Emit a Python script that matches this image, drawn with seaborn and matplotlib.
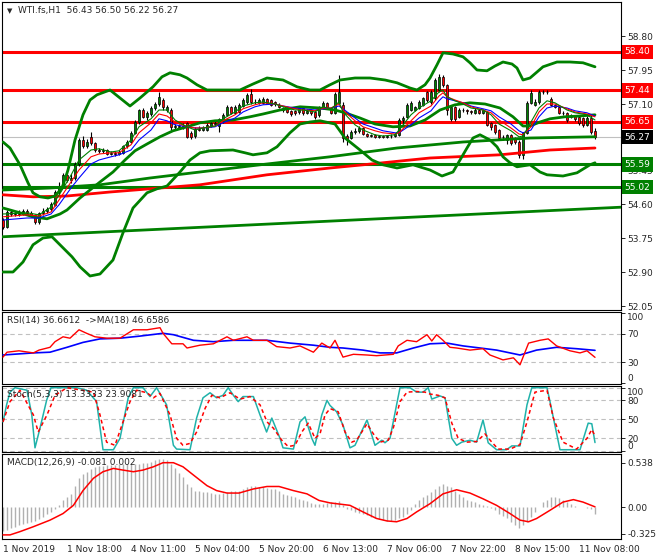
import numpy as np
import pandas as pd
import matplotlib
matplotlib.use("Agg")
import matplotlib.pyplot as plt
import matplotlib.transforms as mtransforms
import seaborn as sns

# ---------------- H1 bars, WTI.fs ----------------
opens = [54.20, 54.03, 54.40, 54.35, 54.38, 54.35, 54.42, 54.38, 54.33, 54.15,
         54.38, 54.42, 54.47, 54.58, 54.90, 55.05, 55.32, 55.20, 55.25, 55.60,
         56.20, 56.05, 56.28, 56.12, 55.95, 55.92, 55.95, 55.85, 55.88, 55.85,
         55.88, 56.05, 56.15, 56.38, 56.65, 56.95, 56.78, 56.85, 57.00, 57.10,
         57.20, 56.95, 56.95, 56.52, 56.55, 56.53, 56.62, 56.38, 56.30, 56.48,
         56.45, 56.45, 56.55, 56.63, 56.55, 56.68, 56.83, 57.03, 56.88, 56.90,
         57.05, 57.15, 57.35, 57.15, 57.13, 57.13, 57.22, 57.20, 57.15, 57.08,
         57.00, 57.00, 56.92, 56.92, 56.90, 57.00, 56.88, 56.95, 56.90, 56.82,
         57.02, 57.12, 57.00, 56.88, 57.12, 57.08, 56.30, 56.25, 56.40, 56.42,
         56.50, 56.35, 56.30, 56.33, 56.28, 56.30, 56.28, 56.30, 56.30, 56.33,
         56.70, 56.78, 56.95, 56.95, 57.00, 57.08, 57.40, 57.15, 57.25, 57.45,
         57.78, 57.58, 56.72, 57.03, 56.78, 56.95, 56.95, 56.92, 56.88, 56.95,
         56.87, 56.90, 56.62, 56.57, 56.45, 56.28, 56.20, 56.32, 56.25, 56.15,
         55.83, 56.38, 57.13, 57.08, 57.15, 57.40, 57.40, 57.23, 57.08, 57.03,
         56.88, 56.88, 56.78, 56.80, 56.78, 56.75, 56.58, 56.75, 56.43]
highs = [54.25, 54.45, 54.45, 54.43, 54.45, 54.47, 54.48, 54.42, 54.36, 54.40,
         54.50, 54.52, 54.65, 54.95, 55.15, 55.38, 55.40, 55.35, 55.65, 56.25,
         56.30, 56.22, 56.40, 56.15, 56.00, 56.00, 55.98, 55.93, 55.92, 55.95,
         56.08, 56.20, 56.42, 56.70, 56.98, 57.00, 56.92, 57.05, 57.15, 57.40,
         57.25, 57.08, 57.00, 56.60, 56.60, 56.62, 56.65, 56.42, 56.52, 56.55,
         56.55, 56.62, 56.68, 56.68, 56.75, 56.88, 57.08, 57.05, 57.08, 57.12,
         57.25, 57.38, 57.48, 57.22, 57.25, 57.27, 57.25, 57.23, 57.18, 57.12,
         57.03, 57.02, 56.95, 56.95, 57.05, 57.02, 56.98, 56.98, 56.92, 57.05,
         57.18, 57.15, 57.02, 57.40, 57.82, 57.15, 56.35, 56.45, 56.50, 56.55,
         56.52, 56.38, 56.36, 56.36, 56.33, 56.32, 56.33, 56.34, 56.38, 56.75,
         56.80, 57.12, 57.18, 57.05, 57.20, 57.28, 57.42, 57.45, 57.75, 57.85,
         57.82, 57.60, 57.05, 57.05, 57.00, 57.00, 56.98, 56.95, 57.00, 56.98,
         56.98, 56.93, 56.65, 56.60, 56.48, 56.32, 56.35, 56.35, 56.28, 56.20,
         56.40, 57.18, 57.45, 57.22, 57.45, 57.45, 57.45, 57.28, 57.10, 57.05,
         56.92, 56.90, 56.85, 56.82, 56.80, 56.78, 56.80, 56.85, 56.50]
lows = [53.98, 54.00, 54.30, 54.30, 54.30, 54.33, 54.35, 54.28, 54.10, 54.10,
        54.33, 54.38, 54.42, 54.55, 54.85, 55.00, 55.15, 55.12, 55.20, 55.55,
        56.00, 56.00, 56.08, 55.90, 55.88, 55.88, 55.82, 55.82, 55.80, 55.82,
        55.85, 56.00, 56.12, 56.35, 56.60, 56.75, 56.70, 56.80, 56.95, 57.05,
        56.95, 56.90, 56.45, 56.45, 56.48, 56.48, 56.25, 56.22, 56.25, 56.42,
        56.42, 56.42, 56.52, 56.55, 56.40, 56.62, 56.80, 56.85, 56.85, 56.88,
        57.02, 57.10, 57.10, 57.10, 57.10, 57.10, 57.10, 57.05, 57.05, 57.00,
        56.90, 56.88, 56.80, 56.83, 56.85, 56.83, 56.85, 56.83, 56.72, 56.78,
        56.98, 56.98, 56.85, 56.85, 57.10, 56.15, 56.08, 56.22, 56.35, 56.38,
        56.32, 56.28, 56.27, 56.25, 56.25, 56.24, 56.26, 56.26, 56.27, 56.30,
        56.55, 56.75, 56.92, 56.93, 56.98, 57.05, 57.15, 57.10, 57.20, 57.40,
        57.52, 56.83, 56.68, 56.68, 56.75, 56.90, 56.85, 56.85, 56.85, 56.84,
        56.84, 56.55, 56.45, 56.35, 56.20, 56.20, 56.10, 56.08, 56.10, 55.75,
        55.72, 56.35, 57.10, 57.05, 57.10, 57.35, 57.35, 57.05, 57.00, 56.85,
        56.83, 56.65, 56.75, 56.68, 56.58, 56.52, 56.55, 56.35, 56.22]
closes = [54.03, 54.40, 54.35, 54.38, 54.35, 54.42, 54.38, 54.33, 54.15, 54.38,
          54.42, 54.47, 54.60, 54.90, 55.05, 55.32, 55.20, 55.25, 55.60, 56.20,
          56.05, 56.15, 56.12, 55.95, 55.92, 55.95, 55.85, 55.88, 55.85, 55.90,
          56.05, 56.15, 56.38, 56.65, 56.95, 56.78, 56.88, 57.00, 57.10, 57.28,
          57.03, 57.02, 56.52, 56.55, 56.53, 56.55, 56.28, 56.28, 56.48, 56.45,
          56.50, 56.58, 56.63, 56.60, 56.72, 56.83, 57.03, 56.88, 57.03, 57.08,
          57.20, 57.32, 57.15, 57.15, 57.20, 57.23, 57.13, 57.08, 57.10, 57.03,
          56.95, 56.90, 56.85, 56.88, 57.00, 56.88, 56.92, 56.88, 56.78, 57.02,
          57.13, 57.00, 56.88, 57.35, 57.40, 56.25, 56.22, 56.40, 56.43, 56.50,
          56.35, 56.30, 56.33, 56.28, 56.30, 56.28, 56.30, 56.30, 56.35, 56.70,
          56.75, 57.08, 57.13, 57.03, 57.15, 57.25, 57.20, 57.40, 57.70, 57.78,
          57.58, 56.95, 57.03, 56.72, 56.95, 56.95, 56.92, 56.90, 56.95, 56.87,
          56.95, 56.58, 56.52, 56.40, 56.25, 56.28, 56.32, 56.13, 56.15, 55.83,
          56.38, 57.13, 57.38, 57.15, 57.40, 57.40, 57.40, 57.08, 57.03, 56.88,
          56.88, 56.70, 56.83, 56.73, 56.63, 56.58, 56.75, 56.40, 56.27]

# thin moving averages (read every few bars)
ma_idx = [0, 6, 9, 12, 14, 17, 19, 22, 24, 27, 29, 32, 34, 37, 39, 41, 43, 46, 48, 50,
          53, 55, 58, 60, 63, 65, 68, 70, 73, 75, 78, 80, 82, 84, 85, 88, 90, 93, 95, 98,
          99, 102, 104, 107, 109, 110, 111, 113, 115, 117, 120, 122, 124, 127, 129, 130,
          132, 134, 136, 138, 141, 143, 146, 148]
ma_fast = [54.35, 54.38, 54.33, 54.52, 54.82, 55.32, 55.70, 55.95, 55.98, 55.90,
           55.93, 56.20, 56.53, 56.73, 56.95, 56.95, 56.70, 56.53, 56.45, 56.50,
           56.55, 56.73, 56.90, 57.05, 57.13, 57.15, 57.10, 57.03, 56.95, 56.95,
           56.90, 57.03, 56.98, 57.15, 56.90, 56.58, 56.45, 56.33, 56.30, 56.33,
           56.45, 56.83, 57.00, 57.18, 57.40, 57.45, 57.28, 57.18, 57.10, 57.00,
           56.95, 56.83, 56.60, 56.43, 56.28, 56.30, 56.65, 57.00, 57.18, 57.13,
           56.95, 56.88, 56.83, 56.70]
ma_mid = [54.28, 54.33, 54.30, 54.40, 54.70, 55.15, 55.45, 55.78, 55.85, 55.88,
          55.88, 56.08, 56.38, 56.63, 56.85, 56.80, 56.65, 56.53, 56.50, 56.50,
          56.55, 56.68, 56.83, 56.98, 57.08, 57.13, 57.10, 57.05, 56.98, 56.95,
          56.93, 57.00, 57.00, 57.10, 56.95, 56.68, 56.53, 56.43, 56.38, 56.35,
          56.38, 56.68, 56.88, 57.05, 57.30, 57.38, 57.28, 57.20, 57.13, 57.03,
          56.95, 56.88, 56.70, 56.50, 56.35, 56.33, 56.53, 56.90, 57.10, 57.10,
          56.98, 56.90, 56.85, 56.78]
ma_slow = [54.20, 54.25, 54.25, 54.35, 54.58, 55.00, 55.25, 55.60, 55.70, 55.78,
           55.83, 55.95, 56.20, 56.45, 56.73, 56.68, 56.58, 56.53, 56.50, 56.50,
           56.53, 56.63, 56.75, 56.90, 57.03, 57.08, 57.10, 57.05, 57.00, 56.98,
           56.95, 56.98, 57.00, 57.05, 56.98, 56.75, 56.60, 56.50, 56.43, 56.38,
           56.38, 56.58, 56.75, 56.93, 57.18, 57.28, 57.23, 57.18, 57.13, 57.05,
           56.98, 56.93, 56.78, 56.60, 56.43, 56.38, 56.45, 56.78, 57.00, 57.05,
           57.00, 56.93, 56.88, 56.80]

# bollinger bands
bb_up_idx = [0, 1.75, 4.25, 6.25, 7.5, 9.25, 11.25, 13, 14.75, 16.25, 18, 20, 21.75, 23.5,
             26.75, 29.25, 31.75, 34.25, 37.5, 39.75, 41.75, 44.25, 46, 48.5, 51, 54.25,
             59.25, 62.5, 66, 70, 73.5, 76.75, 79.25, 81.75, 84.25, 88, 91.75, 95.5, 98.5,
             101.75, 103.5, 105.5, 106.75, 108.5, 110, 112.5, 115, 116.75, 118.5, 121, 123,
             125, 127.25, 128.5, 130, 131.75, 133.5, 135, 138.5, 141.75, 145, 148]
bb_up = [56.15, 56.00, 55.58, 55.13, 54.88, 54.78, 54.75, 54.80, 55.00, 55.45,
         56.20, 56.83, 57.20, 57.33, 57.45, 57.25, 57.05, 57.25, 57.53, 57.78,
         57.88, 57.83, 57.75, 57.58, 57.45, 57.45, 57.45, 57.60, 57.75, 57.70,
         57.53, 57.45, 57.45, 57.58, 57.70, 57.75, 57.75, 57.70, 57.63, 57.50,
         57.45, 57.58, 57.75, 58.08, 58.38, 58.35, 58.28, 58.13, 57.95, 57.93,
         58.05, 58.15, 58.10, 58.00, 57.70, 57.75, 57.90, 58.03, 58.15, 58.15,
         58.13, 58.03]
bb_mid_idx = [0, 4.25, 7.5, 11, 14.25, 16, 19.25, 21.75, 24.25, 27.5, 30.5, 33, 36, 39.25,
              42.5, 46, 49.25, 53, 57.5, 61.75, 65, 69.25, 74.25, 79.25, 83, 85.5, 89.25,
              93, 97.5, 101.75, 105.5, 109.25, 113, 116.75, 120.5, 124.25, 127.5, 130,
              131.75, 134.25, 136.75, 140.5, 144.25, 148]
bb_mid = [54.50, 54.38, 54.28, 54.23, 54.35, 54.45, 54.75, 54.95, 55.15, 55.40,
          55.70, 55.93, 56.10, 56.28, 56.43, 56.53, 56.63, 56.68, 56.70, 56.78,
          56.85, 56.95, 57.03, 57.00, 56.95, 56.88, 56.75, 56.60, 56.53, 56.55,
          56.70, 56.95, 57.08, 57.13, 57.10, 57.00, 56.78, 56.55, 56.55, 56.65,
          56.73, 56.78, 56.80, 56.83]
bb_low_idx = [0, 2.5, 5, 7.5, 10, 12.25, 14.25, 17.25, 19.25, 21.75, 24.25, 27.5, 30, 32.5,
              36, 38.5, 41, 44.25, 46.75, 49.25, 51.75, 57.5, 60.5, 62.5, 66, 68.5, 71.75,
              74.25, 76.75, 79.25, 83, 85.5, 89.25, 92.25, 95, 98.5, 102.5, 106.75, 109.75,
              112.5, 114.25, 116, 117.5, 119.25, 121.75, 123.5, 125, 126.75, 128.5, 131.75,
              134.25, 136, 140, 143.5, 146.75, 148]
bb_low = [52.90, 52.90, 53.15, 53.58, 53.75, 53.78, 53.58, 53.28, 53.03, 52.80,
          52.85, 53.20, 53.88, 54.50, 54.88, 54.98, 55.05, 55.40, 55.70, 55.88,
          55.93, 55.95, 55.88, 55.83, 55.88, 56.03, 56.38, 56.60, 56.65, 56.68,
          56.60, 56.25, 55.95, 55.70, 55.58, 55.50, 55.58, 55.45, 55.30, 55.40,
          55.70, 56.00, 56.25, 56.33, 56.20, 56.03, 55.78, 55.63, 55.53, 55.58,
          55.40, 55.33, 55.30, 55.38, 55.58, 55.63]

# long moving averages and trend line
ma_g_idx = [0, 11.75, 24.25, 36.75, 49.25, 64.25, 81.75, 98.5, 115, 131.75, 148]
ma_g = [54.95, 55.00, 55.08, 55.25, 55.40, 55.58, 55.78, 56.00, 56.15, 56.25, 56.28]
ma_r_idx = [0, 7.5, 16, 26.75, 36.75, 49.25, 66, 81.75, 90, 106.75, 124.25, 136.75, 148]
ma_r = [54.83, 54.78, 54.80, 54.90, 54.98, 55.08, 55.33, 55.50, 55.58, 55.75, 55.83, 55.95, 56.00]
trend_idx = [-0.25, 154.5]
trend_val = [53.78, 54.52]

levels_red = [58.40, 57.44, 56.65]
levels_green = [55.59, 55.02]
last_price = 56.27
price_ticks = [52.05, 52.90, 53.75, 54.60, 55.45, 56.30, 57.10, 57.95, 58.80]

# RSI(14) and its MA(18)
rsi_idx = [0, 1, 4, 7.6, 9, 11.75, 13, 15, 16.75, 19, 20.9, 23, 26, 29.25, 32.6, 36, 39.25,
           40, 42.2, 45, 46, 49.25, 52.6, 56, 57.6, 61, 62.6, 66, 68.4, 71.75, 74.25, 77.6,
           79.7, 81.75, 83, 85, 87.6, 91, 93.4, 97.6, 98.8, 101, 103.4, 106, 107.2, 108.4,
           110, 111.75, 113.4, 116.75, 120, 121.75, 125, 127.6, 129.25, 131.4, 134.25,
           136.3, 138.4, 141.75, 144.25, 146, 148]
rsi_val = [37, 44, 46, 43, 47, 51, 59, 66, 64, 76, 71, 66, 64, 64, 76, 76, 79, 71, 56, 56,
           50, 54, 56, 66, 61, 66, 61, 61, 52, 50, 53, 44, 57, 50, 61, 37, 41, 40, 39, 41,
           53, 61, 59, 69, 60, 69, 61, 51, 50, 47, 49, 40, 33, 36, 26, 57, 61, 63, 53, 46,
           43, 46, 36.66]
rsi_ma_idx = [0, 7.6, 11.75, 16, 20, 24.25, 29.25, 34.25, 40, 42.6, 47.6, 52.6, 57.6, 66,
              71.75, 77.6, 81.75, 85, 90, 94.25, 98.4, 102.6, 106.75, 111, 115, 119.25,
              123.4, 129.25, 133.4, 138.4, 143.4, 148]
rsi_ma_val = [40, 43, 44, 51, 58, 63, 64, 67, 71, 69, 61, 59, 61, 61, 57, 54, 51, 50, 47,
              43, 43, 50, 56, 57, 53, 50, 47, 40, 47, 51, 49, 46.66]

# Stochastic(5,3,3)
sto_idx = [0, 0.9, 1.75, 3, 6, 7.2, 8, 9.25, 10.9, 12, 14.25, 18.4, 20.9, 23.4, 25, 27.6,
           29.25, 31.3, 32.6, 35, 36.75, 38.4, 40.9, 42.6, 43.4, 46.75, 48.4, 50, 51.75,
           53.4, 55, 56.3, 57.6, 58.8, 60, 62.6, 64.25, 65.9, 67.2, 69.25, 70, 72.6, 74.25,
           75.5, 77.2, 78, 79.7, 81, 81.75, 83.4, 85, 86.75, 88, 91, 93, 94.7, 95.5, 96.75,
           98.4, 99.25, 101.75, 103.4, 105, 106.3, 107.2, 109.25, 110.5, 112.2, 113.4,
           114.7, 116.75, 118.4, 120, 121.3, 123.4, 125.9, 127.2, 129.25, 131, 132.2, 136,
           136.75, 139.25, 144.25, 146.3, 147.2, 148]
sto_main = [46, 73, 93, 100, 96, 57, 5, 36, 80, 100, 100, 100, 96, 78, 2, 2, 20, 84, 100,
            100, 86, 100, 73, 9, 3, 2, 52, 84, 92, 84, 88, 100, 88, 78, 86, 86, 57, 30, 52,
            20, 5, 3, 46, 54, 20, 9, 57, 80, 72, 62, 41, 5, 9, 49, 9, 17, 13, 20, 73, 100,
            100, 93, 93, 100, 82, 87, 84, 20, 9, 14, 17, 14, 49, 13, 2, 2, 8, 8, 73, 100,
            100, 78, 2, 2, 44, 43, 13.33]
sto_sig_idx = [0, 1.75, 4.25, 7.6, 8.8, 11, 13, 16, 22.6, 24.25, 25.9, 28, 30, 31.75, 33.4,
               36, 37.6, 39.25, 41.75, 43.4, 45, 46.75, 48.4, 50.5, 52.2, 54.25, 56.75,
               59.25, 61.75, 64.25, 66, 67.6, 69.7, 71.3, 73, 74.7, 76.3, 78, 79.25, 80.5,
               81.75, 83.8, 85.5, 87.2, 88.4, 91, 92.6, 94.25, 96.3, 97.6, 99.25, 101, 103.4,
               105.5, 106.75, 108.8, 110.5, 112.2, 113.8, 116, 118.4, 120.5, 122.2, 123.8,
               126.75, 129.25, 131, 133, 136, 137.6, 140, 143.4, 146, 147.2, 148]
sto_sig = [46, 78, 96, 57, 30, 57, 88, 100, 93, 57, 14, 9, 46, 78, 96, 92, 84, 91, 57, 20,
           9, 12, 30, 67, 88, 84, 92, 82, 86, 73, 46, 36, 17, 7, 9, 30, 44, 20, 27, 57, 67,
           62, 30, 14, 17, 43, 27, 14, 17, 37, 78, 93, 94, 93, 90, 88, 84, 44, 20, 14, 15,
           27, 14, 3, 3, 10, 46, 93, 96, 52, 14, 3, 20, 34, 23.91]

# MACD(12,26,9): main as histogram, one value per bar, plus signal
macd_hist = [-0.29, -0.28, -0.26, -0.24, -0.22, -0.21, -0.20, -0.18, -0.17, -0.15,
             -0.12, -0.09, -0.06, -0.02, 0.02, 0.08, 0.12, 0.16, 0.25, 0.35,
             0.40, 0.43, 0.46, 0.49, 0.50, 0.50, 0.51, 0.51, 0.51, 0.52,
             0.52, 0.53, 0.53, 0.53, 0.53, 0.54, 0.54, 0.55, 0.57, 0.58,
             0.58, 0.57, 0.52, 0.47, 0.42, 0.37, 0.28, 0.24, 0.20, 0.19,
             0.18, 0.18, 0.17, 0.16, 0.16, 0.17, 0.18, 0.19, 0.20, 0.20,
             0.22, 0.24, 0.25, 0.25, 0.24, 0.24, 0.23, 0.22, 0.22, 0.19,
             0.16, 0.15, 0.13, 0.12, 0.10, 0.08, 0.07, 0.05, 0.04, 0.04,
             0.04, 0.05, 0.06, 0.06, 0.07, 0.02, -0.02, -0.04, -0.06, -0.07,
             -0.09, -0.10, -0.12, -0.14, -0.15, -0.16, -0.17, -0.17, -0.16, -0.14,
             -0.12, -0.08, -0.04, 0.04, 0.08, 0.12, 0.15, 0.18, 0.22, 0.26,
             0.28, 0.26, 0.24, 0.20, 0.16, 0.12, 0.09, 0.07, 0.06, 0.04,
             0.02, 0.01, -0.01, -0.04, -0.08, -0.11, -0.14, -0.18, -0.22, -0.26,
             -0.22, -0.18, -0.12, -0.06, 0.00, 0.06, 0.09, 0.12, 0.12, 0.11,
             0.08, 0.06, 0.04, 0.01, 0.00, 0.00, -0.01, -0.02, -0.081]
macd_sig_idx = [0, 1.75, 4.25, 7.6, 11.75, 15, 17.6, 20, 22.6, 25, 27.6, 30, 32.6, 35, 37.6,
                40, 42.6, 45, 47.6, 51, 53.4, 56, 59, 62.6, 66, 69, 72.6, 76, 79, 81.75,
                86.75, 90, 93.4, 96, 98.4, 101, 103.4, 106.75, 110, 113.4, 116.75, 120,
                123.4, 126.75, 129.25, 131.4, 133.4, 136.75, 140, 142.6, 145, 148]
macd_sig = [-0.34, -0.34, -0.30, -0.24, -0.16, -0.08, 0.02, 0.20, 0.35, 0.43,
            0.47, 0.45, 0.43, 0.45, 0.49, 0.54, 0.54, 0.49, 0.39, 0.26,
            0.20, 0.17, 0.17, 0.22, 0.25, 0.25, 0.20, 0.16, 0.08, 0.05,
            0.02, -0.06, -0.14, -0.17, -0.18, -0.14, -0.06, 0.04, 0.16, 0.21,
            0.17, 0.10, 0.02, -0.08, -0.16, -0.18, -0.14, -0.04, 0.06, 0.09,
            0.06, 0.002]

time_labels = ["1 Nov 2019", "1 Nov 18:00", "4 Nov 11:00", "5 Nov 04:00", "5 Nov 20:00",
               "6 Nov 13:00", "7 Nov 06:00", "7 Nov 22:00", "8 Nov 15:00", "11 Nov 08:00"]

# ---------------- style ----------------
sns.set_style("white")
plt.rcParams['font.family'] = ['DejaVu Sans']
FS = 6.5
GREEN = "#008000"
RED = "#ff0000"

W, H = 660, 560
fig = plt.figure(figsize=(W / 100, H / 100), dpi=100)


def panel(top, bottom):
    ax = fig.add_axes([2 / W, 1 - bottom / H, 619 / W, (bottom - top) / H])
    for s in ax.spines.values():
        s.set_color("black")
        s.set_linewidth(0.8)
    ax.set_xlim(-0.25, 154.5)
    ax.yaxis.tick_right()
    ax.tick_params(axis="y", direction="out", length=3, width=0.7, labelsize=FS, pad=1.5)
    ax.set_xticks([])
    return ax


def line(ax, x, y, color, lw, z=5, **kw):
    sns.lineplot(x=x, y=y, ax=ax, color=color, linewidth=lw, legend=False, zorder=z, **kw)


ax = panel(2, 310)
ax_rsi = panel(312, 384)
ax_sto = panel(386, 452)
ax_macd = panel(454, 539)

# ---------------- main chart ----------------
bars = pd.DataFrame({"o": opens, "h": highs, "l": lows, "c": closes})
bars["i"] = np.arange(len(bars))
up = bars["c"] >= bars["o"]
ax.vlines(bars["i"], bars["l"], bars["h"], color="black", lw=0.8, zorder=3)
ax.bar(bars["i"][up], (bars["c"] - bars["o"])[up], bottom=bars["o"][up], width=0.7,
       color=GREEN, edgecolor="black", linewidth=0.5, zorder=4)
ax.bar(bars["i"][~up], (bars["o"] - bars["c"])[~up], bottom=bars["c"][~up], width=0.7,
       color=RED, edgecolor="black", linewidth=0.5, zorder=4)

ax.axhline(last_price, color="#c0c0c0", lw=0.8, zorder=1)
for v in levels_red:
    ax.axhline(v, color=RED, lw=2.2, zorder=2)
for v in levels_green:
    ax.axhline(v, color=GREEN, lw=2.2, zorder=2)

line(ax, trend_idx, trend_val, GREEN, 2.0)
line(ax, ma_r_idx, ma_r, RED, 2.0)
line(ax, ma_g_idx, ma_g, GREEN, 2.0)
line(ax, bb_up_idx, bb_up, GREEN, 2.0)
line(ax, bb_mid_idx, bb_mid, GREEN, 2.0)
line(ax, bb_low_idx, bb_low, GREEN, 2.0)
line(ax, ma_idx, ma_slow, "#0000ff", 0.8, z=6)
line(ax, ma_idx, ma_mid, RED, 0.8, z=6)
line(ax, ma_idx, ma_fast, GREEN, 0.8, z=6)

ax.set_ylim(51.95, 59.65)
ax.set_yticks(price_ticks)
# the 56.30 label sits under the 56.27 price tag, so only its tick mark shows
ax.set_yticklabels([f"{v:.2f}" if v != 56.30 else "" for v in price_ticks])

blend = mtransforms.blended_transform_factory(ax.transAxes, ax.transData)
tags = [(v, RED) for v in levels_red] + [(last_price, "black")] + [(v, GREEN) for v in levels_green]
for v, col in tags:
    ax.text(1.006, v, f"{v:.2f}", transform=blend, ha="left", va="center", color="white",
            fontsize=FS, zorder=10, clip_on=False,
            bbox=dict(boxstyle="square,pad=0.3", fc=col, ec="none"))

fig.text(7 / W, 1 - 11 / H, "\u25bc", fontsize=5, va="center", ha="left")
fig.text(18 / W, 1 - 11 / H, "WTI.fs,H1  56.43 56.50 56.22 56.27", fontsize=FS,
         va="center", ha="left")

# ---------------- RSI ----------------
for v in [70, 30]:
    ax_rsi.axhline(v, color="#c0c0c0", lw=0.8, ls=(0, (4, 3)), zorder=1)
line(ax_rsi, rsi_ma_idx, rsi_ma_val, "#0000ff", 1.2)
line(ax_rsi, rsi_idx, rsi_val, RED, 1.0)
ax_rsi.set_ylim(-1.4, 101.4)
ax_rsi.set_yticks([100, 70, 30, 0])
ax_rsi.set_yticklabels(["100", "70", "30", "0"])
ax_rsi.get_yticklabels()[0].set_va("top")
ax_rsi.get_yticklabels()[3].set_va("bottom")
fig.text(7 / W, 1 - 321 / H, "RSI(14) 36.6612  ->MA(18) 46.6586", fontsize=FS,
         va="center", ha="left")

# ---------------- Stochastic ----------------
for v in [100, 80, 50, 20, 0]:
    ax_sto.axhline(v, color="#c0c0c0", lw=0.8, ls=(0, (4, 3)), zorder=1)
line(ax_sto, sto_idx, sto_main, "#20b2aa", 1.1)
line(ax_sto, sto_sig_idx, sto_sig, RED, 1.1, linestyle=(0, (2.5, 2)))
ax_sto.set_ylim(-1.6, 102.7)
ax_sto.set_yticks([100, 80, 50, 20, 0])
ax_sto.set_yticklabels(["100", "80", "50", "20", "0"])
ax_sto.get_yticklabels()[0].set_va("top")
ax_sto.get_yticklabels()[4].set_va("bottom")
fig.text(7 / W, 1 - 395 / H, "Stoch(5,3,3) 13.3333 23.9081", fontsize=FS,
         va="center", ha="left")

# ---------------- MACD ----------------
ax_macd.vlines(np.arange(len(macd_hist)), 0, macd_hist, color="#b0b0b0", lw=1.0, zorder=2)
line(ax_macd, macd_sig_idx, macd_sig, RED, 1.1)
ax_macd.set_ylim(-0.39, 0.646)
ax_macd.set_yticks([0.538, 0.0, -0.325])
ax_macd.set_yticklabels(["0.538", "0.00", "-0.325"])
fig.text(7 / W, 1 - 463 / H, "MACD(12,26,9) -0.081 0.002", fontsize=FS,
         va="center", ha="left")

ax_macd.set_xticks(np.arange(0, 16 * len(time_labels), 16))
ax_macd.set_xticklabels(time_labels)
ax_macd.tick_params(axis="x", direction="out", length=3, width=0.7, labelsize=FS, pad=1.5)
for lab in ax_macd.get_xticklabels():
    lab.set_ha("left")

for a in (ax, ax_rsi, ax_sto, ax_macd):
    a.set_xlim(-0.25, 154.5)
    a.set_xlabel("")
    a.set_ylabel("")

fig.savefig("out.png", dpi=100, facecolor="white")
